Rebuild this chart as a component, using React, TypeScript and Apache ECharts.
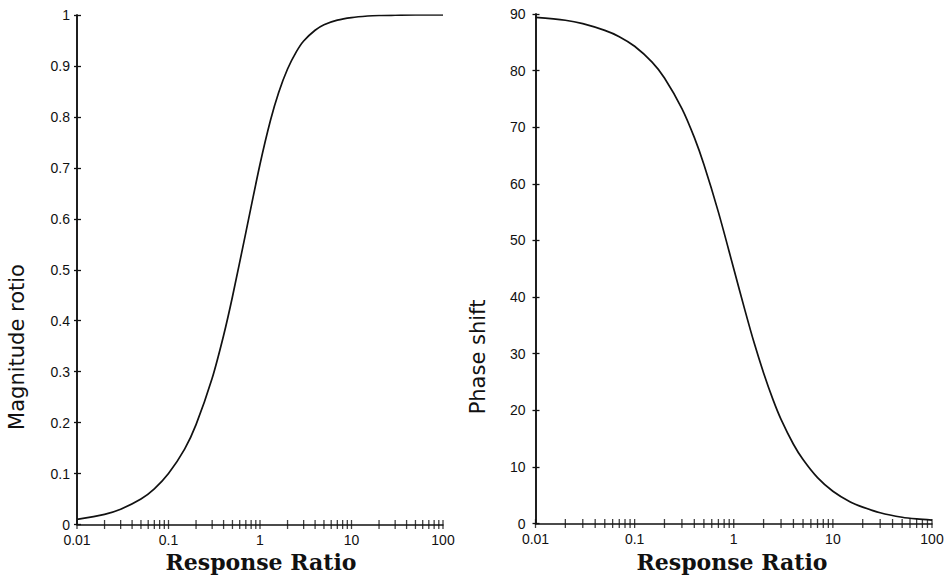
import React, { useEffect, useRef } from "react";
import * as echarts from "echarts";

// Response ratio (x) sample points
const RATIO = [0.01, 0.02, 0.03, 0.05, 0.07, 0.1, 0.15, 0.2, 0.3, 0.4, 0.5, 0.7, 1, 1.3, 1.6, 2, 2.5, 3, 4, 5, 7, 10, 15, 20, 30, 50, 70, 100];
// Left panel: magnitude ratio
const MAGNITUDE = [0.01, 0.02, 0.03, 0.05, 0.07, 0.1, 0.148, 0.196, 0.287, 0.371, 0.447, 0.573, 0.707, 0.793, 0.848, 0.894, 0.928, 0.949, 0.97, 0.981, 0.99, 0.995, 0.998, 0.999, 0.9995, 1, 1, 1];
// Right panel: phase shift (degrees)
const PHASE = [89.4, 88.9, 88.3, 87.1, 86.0, 84.3, 81.5, 78.7, 73.3, 68.2, 63.4, 55.0, 45.0, 37.6, 32.0, 26.6, 21.8, 18.4, 14.0, 11.3, 8.1, 5.7, 3.8, 2.9, 1.9, 1.1, 0.8, 0.6];

// Axis tick marks on the log axis
const DECADES = [0.01, 0.1, 1, 10];
const MULTIPLIERS = [1, 2, 3, 4, 5, 6, 7, 8, 9];
const X_END = 100;

const X_TITLE = "Response Ratio";
const LEFT_Y_TITLE = "Magnitude rotio";
const RIGHT_Y_TITLE = "Phase shift";

const INK = "#111";

function fmt(v: number): string {
  return String(Number(v.toPrecision(6)));
}

export default function App() {
  const ref = useRef<HTMLDivElement>(null);

  useEffect(() => {
    if (!ref.current) return;
    const chart = echarts.init(ref.current, undefined, { renderer: "svg" });

    const xTicks: number[] = [];
    DECADES.forEach((d) => MULTIPLIERS.forEach((m) => xTicks.push(Number((d * m).toPrecision(6)))));
    xTicks.push(X_END);

    const labelStyle = { color: INK, fontFamily: "Liberation Sans", fontSize: 14 };
    const lineStyle = { color: INK, width: 1.5 };

    const makeX = (gridIndex: number) => ({
      type: "log",
      logBase: 10,
      gridIndex,
      min: 0.01,
      max: 100,
      axisLine: { show: true, lineStyle },
      axisTick: { show: false },
      splitLine: { show: false },
      axisLabel: { ...labelStyle, margin: 8, formatter: (v: number) => fmt(v) },
    });

    const makeY = (gridIndex: number, max: number, interval: number, withLabels: boolean, inside: boolean, margin: number) => ({
      type: "value",
      gridIndex,
      position: "left",
      offset: 0,
      min: 0,
      max,
      interval,
      axisLine: { show: true, onZero: false, lineStyle },
      axisTick: { show: true, inside, length: inside ? 4 : 3, lineStyle: { color: INK, width: 1.3 } },
      splitLine: { show: false },
      axisLabel: { show: withLabels, ...labelStyle, margin, formatter: (v: number) => fmt(v) },
    });

    const tickSeries = (xAxisIndex: number, yAxisIndex: number) => ({
      type: "scatter",
      xAxisIndex,
      yAxisIndex,
      symbol: "rect",
      symbolSize: [1.3, 9],
      clip: false,
      silent: true,
      itemStyle: { color: INK },
      data: xTicks.map((t) => [t, 0]),
    });

    const titleFont = "bold 22px 'DejaVu Serif'";

    chart.setOption({
      animation: false,
      backgroundColor: "#fff",
      grid: [
        { left: 77, top: 15, width: 366, height: 509.5 },
        { left: 535.5, top: 14, width: 396.5, height: 509.5 },
      ],
      xAxis: [makeX(0), makeX(1)],
      yAxis: [
        makeY(0, 1, 0.1, true, false, 7),
        makeY(0, 1, 0.1, false, true, 7),
        makeY(1, 90, 10, true, false, 10),
        makeY(1, 90, 10, false, true, 10),
      ],
      series: [
        {
          type: "line",
          xAxisIndex: 0,
          yAxisIndex: 0,
          smooth: 0.3,
          showSymbol: false,
          lineStyle: { color: INK, width: 1.7 },
          data: RATIO.map((x, i) => [x, MAGNITUDE[i]]),
        },
        {
          type: "line",
          xAxisIndex: 1,
          yAxisIndex: 2,
          smooth: 0.3,
          showSymbol: false,
          lineStyle: { color: INK, width: 1.7 },
          data: RATIO.map((x, i) => [x, PHASE[i]]),
        },
        tickSeries(0, 0),
        tickSeries(1, 2),
      ],
      graphic: [
        {
          type: "text",
          x: 261,
          y: 562,
          style: { text: X_TITLE, fill: INK, font: titleFont, align: "center", verticalAlign: "middle" },
        },
        {
          type: "text",
          x: 732,
          y: 562,
          style: { text: X_TITLE, fill: INK, font: titleFont, align: "center", verticalAlign: "middle" },
        },
        {
          type: "text",
          x: 17,
          y: 347,
          rotation: Math.PI / 2,
          style: { text: LEFT_Y_TITLE, fill: INK, font: "21px 'DejaVu Sans'", align: "center", verticalAlign: "middle" },
        },
        {
          type: "text",
          x: 478,
          y: 357,
          rotation: Math.PI / 2,
          style: { text: RIGHT_Y_TITLE, fill: INK, font: "21px 'DejaVu Sans'", align: "center", verticalAlign: "middle" },
        },
      ],
    });

    return () => chart.dispose();
  }, []);

  return (
    <div
      ref={ref}
      style={{ position: "fixed", left: 0, top: 0, width: 950, height: 577, background: "#fff" }}
    />
  );
}
